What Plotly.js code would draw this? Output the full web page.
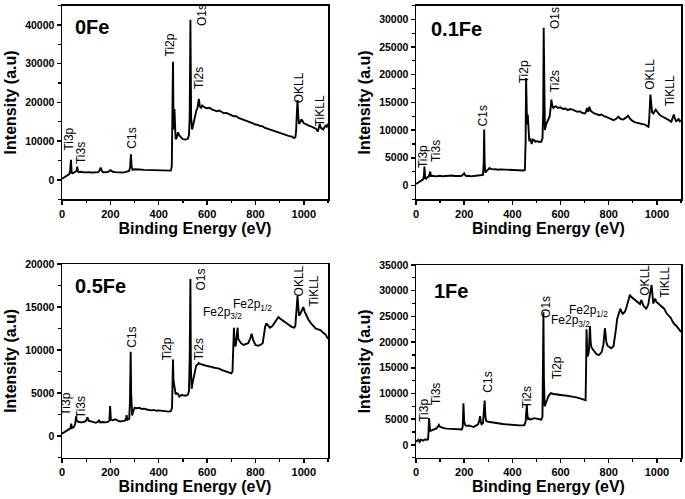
<!DOCTYPE html>
<html>
<head>
<meta charset="utf-8">
<script src="https://cdn.plot.ly/plotly-3.0.1.min.js"></script>
<style>html,body{margin:0;padding:0;background:#fff;}#chart{width:685px;height:499px;}</style>
</head>
<body>
<div id="chart"></div>
<script>
// ---- data: binding energy (eV) and intensity (a.u.) for each sample ----
const e0Fe = [0,5,10,15,20,25,30,34,37,40,45,50,55,60,63,66,70,80,90,100,110,120,130,140,150,155,160,165,170,180,190,200,210,220,230,240,250,260,270,278,282,285,288,292,300,310,320,340,360,380,400,420,440,450,454,456,459,461,463,465,467,470,475,480,485,490,495,500,510,520,525,528,531,534,538,542,548,555,560,566,570,575,580,590,600,610,620,630,640,650,660,670,680,690,700,710,720,730,740,750,760,770,780,790,800,810,820,830,840,850,860,870,880,890,900,910,920,930,940,950,960,965,968,971,974,977,980,985,990,995,1000,1005,1010,1020,1030,1040,1050,1058,1062,1066,1070,1075,1080,1085,1090,1095,1100];
const i0Fe = [300,500,700,900,1100,1300,1500,2500,5200,1800,1700,1900,2100,2300,3400,2200,2000,2100,1950,2050,2000,1900,2000,1950,2000,2400,3200,2300,2000,1950,2050,2500,2100,2000,1950,2050,1900,2000,2100,2300,3500,6600,3300,2600,2750,2650,2700,2600,2550,2500,2450,2400,2300,2400,3500,12000,30500,16000,13000,18300,13000,10500,11000,12300,11500,11000,10800,10500,10400,10600,11500,16000,41300,16000,13000,14000,16000,17800,18500,20900,19000,18600,19200,18700,18500,18600,18200,18000,17700,17900,17500,17200,17300,16900,16700,16400,16500,16000,15800,15600,15400,15000,14800,14600,14300,14200,13900,13800,13400,13200,13000,12800,12400,12300,12000,11800,11700,11400,11300,11200,10800,11000,12500,17000,20600,16500,14500,14800,15600,15200,14600,14500,14300,14000,13800,13500,13200,12500,13800,14400,13500,13300,13000,13600,14000,13700,14500];

const e01Fe = [0,5,10,15,20,25,30,33,35,38,42,48,53,56,59,62,70,80,90,100,110,120,130,140,150,160,170,180,190,200,205,210,220,230,240,250,260,270,278,281,283,285,288,295,300,305,310,320,330,340,350,370,390,410,430,445,452,455,457,459,461,464,467,470,475,480,485,490,495,500,510,520,525,528,530,532,535,540,545,550,555,560,562,565,570,575,580,590,600,610,620,630,640,650,660,670,680,690,700,705,710,715,720,725,730,740,750,760,770,780,790,800,810,820,830,840,850,860,870,880,890,900,910,920,930,940,950,960,965,968,971,973,976,980,985,990,995,1000,1010,1020,1030,1040,1050,1060,1065,1070,1073,1080,1085,1090,1095,1100];
const i01Fe = [250,400,500,650,750,900,1100,1800,3400,1300,1200,1500,1600,2000,2500,1700,1750,1650,1700,1750,1650,1700,1650,1750,1800,1700,1650,1700,1750,2200,1800,1700,1750,1650,1700,1750,1700,1750,1900,4000,10100,4000,2300,2700,3000,3150,3000,2900,2950,2850,2900,2850,2800,2750,2700,2700,2800,8000,19400,14000,11000,12800,9000,8000,8500,7500,8300,8200,7900,8000,7900,7900,8500,13000,28500,14000,10000,11000,11500,12200,12500,14500,15500,14500,14000,14200,14300,14000,14100,13800,13900,13600,13800,13700,13500,13300,13400,13100,13000,13200,14000,13300,14200,13500,13300,13000,12900,12700,12800,12500,12400,12200,12000,11800,12000,12400,12000,11900,12200,12600,12000,11600,11400,11300,11200,11000,11000,10700,10600,12000,15000,16400,15000,13200,13000,13500,13700,13400,12800,12500,12300,12000,11800,11500,12000,12800,12300,11500,11800,12000,11600,11800];

const e05Fe = [0,5,10,15,20,25,30,35,38,41,45,50,55,58,61,65,70,80,90,100,105,110,120,130,140,150,153,158,170,180,190,196,199,202,210,220,230,240,250,260,265,267,270,278,281,284,286,290,295,300,310,320,330,340,350,360,370,380,390,400,410,420,430,440,450,455,457,459,461,463,466,470,475,480,485,490,495,500,510,520,525,528,531,533,536,540,545,550,555,560,565,570,580,590,600,610,620,630,640,650,660,670,680,690,700,705,708,711,714,717,720,723,726,729,735,740,750,760,770,778,784,790,795,800,810,820,830,835,840,845,850,860,870,880,890,895,900,910,920,930,940,950,960,965,968,971,974,977,980,985,990,995,998,1003,1010,1020,1030,1040,1050,1060,1070,1080,1090,1100];
const i05Fe = [300,400,450,500,650,700,800,900,1450,950,1000,1100,1500,2300,1800,1700,1650,1600,1650,1800,2200,1800,1700,1600,1550,1700,1900,1600,1650,1600,1650,1800,3500,1900,1850,1950,1800,1700,1750,1800,2100,2450,1900,2000,4000,9800,5000,2400,2900,3300,3250,3300,3150,3200,3100,3050,3000,3050,2950,3000,2950,2900,2850,2850,2900,3300,6000,8900,6500,6000,5200,4850,5000,4900,4600,4700,4800,4750,4700,4800,5200,9000,18250,8000,5500,6200,7000,7800,8200,8300,8500,8400,8300,8250,8150,8100,8000,7950,7900,7850,7700,7600,7500,7400,7300,7500,10000,12600,11000,10400,10800,11500,12600,11300,11000,10800,10600,10700,10800,11300,11900,11200,10900,10600,10500,10600,10800,11800,12700,13100,12900,12600,12800,13200,13600,13850,13700,13500,13300,13000,12900,12700,12600,12800,14000,15500,16300,15000,14000,14200,14600,14900,15000,14500,14000,13500,13100,12800,12500,12400,12300,12000,11800,11300];

const e1Fe = [0,5,10,15,20,25,30,35,40,45,50,52,54,57,60,65,70,75,80,85,90,95,100,110,120,130,140,150,160,170,180,190,194,197,200,205,210,220,230,240,250,258,263,266,269,272,278,282,285,288,292,300,310,320,330,340,350,360,370,380,390,400,410,420,430,440,450,455,458,460,462,465,470,475,480,490,500,510,520,525,527,529,531,534,538,545,550,555,560,570,580,590,600,610,620,630,640,650,660,670,680,690,700,704,706,708,710,712,715,718,720,722,725,728,735,740,750,760,770,778,782,784,787,790,795,800,810,820,825,830,835,840,845,848,852,858,865,870,878,884,888,893,900,908,915,922,930,935,940,945,950,955,960,965,970,975,978,981,985,990,993,998,1005,1010,1020,1030,1040,1050,1058,1065,1072,1080,1088,1094,1100];
const i1Fe = [600,900,1000,600,1000,900,800,1000,1100,950,1050,2500,5200,3500,2700,2800,2900,3000,3100,3200,3500,3900,3500,3300,3200,3150,3100,3100,3050,3000,2950,3000,3500,8100,4500,3800,3700,3750,3600,3500,3800,4000,4800,5600,4500,4000,4200,6000,8600,5500,4600,4500,4400,4300,4250,4150,4100,4050,4000,3950,3900,3900,3850,3850,3800,3800,3850,4500,6500,7800,6000,5000,5100,4900,5000,5200,5100,5000,4900,5500,12000,25800,13000,7500,8000,9000,9500,9800,10050,9900,9800,9750,9700,9650,9600,9550,9500,9400,9300,9200,9100,8900,8750,8700,15000,22500,19000,17200,17600,18500,21000,23100,20000,19000,18500,18200,17600,17500,18000,19500,21500,22700,21500,20000,19300,19100,18800,19200,20500,22500,24500,25300,26000,26500,26000,25500,25800,26200,27500,28800,29200,28800,28500,28200,28000,27600,27400,28200,27500,27000,26800,26500,26800,27500,29000,30500,31100,29500,27500,28200,28400,27800,27500,27300,26800,26500,25600,25000,24700,24000,23500,23200,22700,22500,22000];

// ---- tick / axis settings ----
const xRange = [0, 1100];
const yRanges = [[-5000, 45000], [-2500, 32500], [-2500, 20000], [-2500, 35000]];
const yDticks = [10000, 5000, 5000, 5000];
const yMinor = [5000, 2500, 2500, 2500];
const sampleNames = ['0Fe', '0.1Fe', '0.5Fe', '1Fe'];

const FONT = 'Arial, "Liberation Sans", sans-serif';
const series = [[e0Fe, i0Fe], [e01Fe, i01Fe], [e05Fe, i05Fe], [e1Fe, i1Fe]];
const axIds = ['', '2', '3', '4'];

const traces = series.map((s, k) => ({
  x: s[0], y: s[1], type: 'scatter', mode: 'lines',
  line: {color: '#000', width: 1.9},
  xaxis: 'x' + axIds[k], yaxis: 'y' + axIds[k], showlegend: false, hoverinfo: 'skip'
}));

const W = 685, H = 499;
const xDom = [[62 / W, 328 / W], [416 / W, 681 / W], [62 / W, 328 / W], [416 / W, 681 / W]];
const yDom = [[1 - 199.3 / H, 1 - 5.5 / H], [1 - 199.3 / H, 1 - 5.5 / H], [1 - 457.7 / H, 1 - 264 / H], [1 - 457.7 / H, 1 - 265 / H]];

const layout = {
  width: W, height: H,
  margin: {l: 0, r: 0, t: 0, b: 0},
  paper_bgcolor: '#fff', plot_bgcolor: '#fff',
  font: {family: FONT, color: '#000'},
  annotations: []
};

for (let k = 0; k < 4; k++) {
  const xa = {
    domain: xDom[k], range: xRange, anchor: 'y' + axIds[k],
    showline: true, mirror: true, linecolor: '#000', linewidth: 1.5,
    ticks: 'outside', ticklen: 4, tickwidth: 1.5, tickcolor: '#000',
    tick0: 0, dtick: 200, showgrid: false, zeroline: false,
    tickformat: 'd', exponentformat: 'none',
    minor: {ticks: 'outside', ticklen: 2.5, tickwidth: 1.2, tickcolor: '#000', dtick: 100, showgrid: false},
    tickfont: {family: FONT, size: 11, weight: 'bold', color: '#000'},
    title: {text: 'Binding Energy (eV)', standoff: 3, font: {family: FONT, size: 16, weight: 'bold', color: '#000'}}
  };
  const ya = {
    domain: yDom[k], range: yRanges[k], anchor: 'x' + axIds[k],
    showline: true, mirror: true, linecolor: '#000', linewidth: 1.5,
    ticks: 'outside', ticklen: 4, tickwidth: 1.5, tickcolor: '#000',
    tick0: 0, dtick: yDticks[k], showgrid: false, zeroline: false,
    tickformat: 'd', exponentformat: 'none', separatethousands: false,
    minor: {ticks: 'outside', ticklen: 2.5, tickwidth: 1.2, tickcolor: '#000', dtick: yMinor[k], showgrid: false},
    tickfont: {family: FONT, size: 10.5, weight: 'bold', color: '#000'},
    title: {text: 'Intensity (a.u)', standoff: 4, font: {family: FONT, size: 16, weight: 'bold', color: '#000'}}
  };
  layout['xaxis' + axIds[k]] = xa;
  layout['yaxis' + axIds[k]] = ya;
}

// ---- labels (sample names and peak assignments) ----
const nameLabelPos = [[45, 39400], [53, 28200], [44, 17450], [65, 29960]];
const peakLabels = [
  [['Ti3p', 29, 10400], ['Ti3s', 78, 6900], ['C1s', 288, 10800], ['Ti2p', 446, 34900], ['O1s', 577, 42400], ['Ti2s', 567, 26300], ['OKLL', 981, 23700], ['TiKLL', 1066, 17900]],
  [['Ti3p', 32, 5250], ['Ti3s', 86, 6160], ['C1s', 279, 12500], ['Ti2p', 449, 20470], ['O1s', 580, 30200], ['Ti2s', 577, 18840], ['OKLL', 973, 20050], ['TiKLL', 1055, 17030]],
  [['Ti3p', 17, 3690], ['Ti3s', 79, 3380], ['C1s', 289, 11540], ['Ti2p', 438, 10190], ['O1s', 573, 18150], ['Ti2s', 570, 10070], ['OKLL', 979, 18060], ['TiKLL', 1041, 16900]],
  [['Ti3p', 30, 6680], ['Ti3s', 83, 9920], ['C1s', 295, 12120], ['Ti2s', 461, 9280], ['O1s', 537, 26910], ['Ti2p', 586, 14920], ['OKLL', 947, 31970], ['TiKLL', 1030, 31580]]
];
const fePeakLabels = [
  [],
  [],
  [['Fe2p<sub>3/2</sub>', 665, 14270], ['Fe2p<sub>1/2</sub>', 787, 15230]],
  [['Fe2p<sub>3/2</sub>', 642, 24120], ['Fe2p<sub>1/2</sub>', 718, 26070]]
];

for (let k = 0; k < 4; k++) {
  layout.annotations.push({
    text: sampleNames[k], x: nameLabelPos[k][0], y: nameLabelPos[k][1],
    xref: 'x' + axIds[k], yref: 'y' + axIds[k], xanchor: 'left', yanchor: 'middle',
    showarrow: false, font: {family: FONT, size: 20, weight: 'bold', color: '#000'}
  });
  peakLabels[k].forEach(p => layout.annotations.push({
    text: p[0], x: p[1], y: p[2], textangle: -90,
    xref: 'x' + axIds[k], yref: 'y' + axIds[k], xanchor: 'center', yanchor: 'middle',
    showarrow: false, font: {family: FONT, size: 12, color: '#000'}
  }));
  fePeakLabels[k].forEach(p => layout.annotations.push({
    text: p[0], x: p[1], y: p[2],
    xref: 'x' + axIds[k], yref: 'y' + axIds[k], xanchor: 'center', yanchor: 'middle',
    showarrow: false, font: {family: FONT, size: 12, color: '#000'}
  }));
}

Plotly.newPlot('chart', traces, layout, {staticPlot: true, displayModeBar: false});
</script>
</body>
</html>
